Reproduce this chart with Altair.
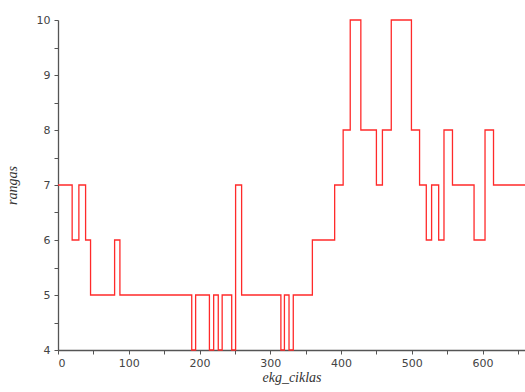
import altair as alt
import pandas as pd

# change points of the step series (x = ekg_ciklas, y = rangas)
ekg_ciklas = [0, 20, 29.5, 39, 46, 80, 87.5, 189, 194.5, 214, 220, 226.5, 232,
              245.5, 251, 259.5, 315, 320, 326.5, 332.5, 359.5, 391, 403, 413,
              428, 450, 458.5, 471, 499.5, 511, 520.5, 528, 538, 545.5, 557.5,
              588, 603.5, 615.5, 660]
rangas = [7, 6, 7, 6, 5, 6, 5, 4, 5, 4, 5, 4, 5,
          4, 7, 5, 4, 5, 4, 5, 6, 7, 8, 10,
          8, 7, 8, 10, 8, 7, 6, 7, 6, 8, 7,
          6, 8, 7, 7]

x_ticks = [0, 50, 100, 150, 200, 250, 300, 350, 400, 450, 500, 550, 600, 650]
y_ticks = [4, 4.5, 5, 5.5, 6, 6.5, 7, 7.5, 8, 8.5, 9, 9.5, 10]

df = pd.DataFrame({"ekg_ciklas": ekg_ciklas, "rangas": rangas})

axis_common = dict(
    grid=False,
    domainColor="#555555",
    domainWidth=1.3,
    tickColor="#555555",
    tickSize=4,
    labelFont="DejaVu Sans",
    labelFontSize=11,
    labelColor="#444444",
    titleFont="Liberation Serif",
    titleFontStyle="italic",
    titleFontWeight="normal",
    titleFontSize=14,
    titleColor="#333333",
)

chart = alt.Chart(df).mark_line(
    interpolate="step-after", color="#ff2a2a", strokeWidth=1.3
).encode(
    x=alt.X("ekg_ciklas:Q",
            scale=alt.Scale(domain=[0, 660], nice=False, zero=False),
            axis=alt.Axis(values=x_ticks,
                          labelExpr="datum.value % 100 == 0 ? format(datum.value, 'd') : ''",
                          title="ekg_ciklas", titlePadding=2, labelPadding=3,
                          **axis_common)),
    y=alt.Y("rangas:Q",
            scale=alt.Scale(domain=[4, 10], nice=False, zero=False),
            axis=alt.Axis(values=y_ticks,
                          labelExpr="datum.value % 1 == 0 ? format(datum.value, 'd') : ''",
                          title="rangas", titlePadding=17, labelPadding=4,
                          **axis_common)),
).properties(
    width=467, height=330,
    autosize="none",
    padding={"left": 58, "top": 20, "right": 0, "bottom": 42},
).configure_view(stroke=None)

chart.save("out.html", embed_options={"renderer": "svg", "actions": False})
